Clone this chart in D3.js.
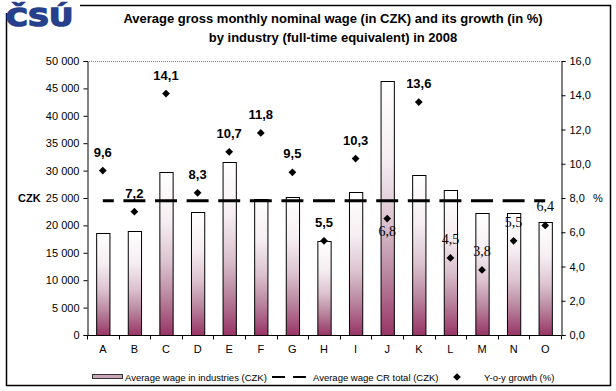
<!DOCTYPE html>
<meta charset="utf-8">
<script src="https://d3js.org/d3.v7.min.js"></script>
<style>
  body { margin: 0; background: #fff; }
  text { font-family: "Liberation Sans", Arial, sans-serif; }
</style>
<div id="chart"></div>
<script>

// data
var categories = ["A","B","C","D","E","F","G","H","I","J","K","L","M","N","O"];
var wages = [18550, 18900, 29700, 22400, 31500, 24750, 25100, 17200, 26050, 46350, 29150, 26400, 22200, 22200, 20550];
var growth = [9.6, 7.2, 14.1, 8.3, 10.7, 11.8, 9.5, 5.5, 10.3, 6.8, 13.6, 4.5, 3.8, 5.5, 6.4];
var avgWage = 24500;
var wageTicks = [0, 5000, 10000, 15000, 20000, 25000, 30000, 35000, 40000, 45000, 50000];
var growthTicks = [0, 2, 4, 6, 8, 10, 12, 14, 16];
var titleLines = ["Average gross monthly nominal wage (in CZK) and its growth (in %)",
                  "by industry  (full-time equivalent) in 2008"];
var legendLabels = ["Average wage in industries (CZK)", "Average wage CR total (CZK)", "Y-o-y growth (%)"];

// labels that excel drew below the point / in the plain serif face
var labelBelow = ["J"];
var serifLabels = ["J", "L", "M", "N", "O"];

var W = 616, H = 391;
var plot = {left: 87, right: 561, top: 61, bottom: 335};

var svg = d3.select("#chart").append("svg")
    .attr("width", W)
    .attr("height", H);

// gradient for the bars
var defs = svg.append("defs");
var grad = defs.append("linearGradient")
    .attr("id", "barFill")
    .attr("x1", 0).attr("y1", 0).attr("x2", 0).attr("y2", 1);
[[0, "#ffffff"], [0.3, "#f6eef2"], [0.55, "#dcc3cf"], [0.75, "#bb8aa2"], [1, "#983466"]].forEach(function (s) {
  grad.append("stop").attr("offset", s[0]).attr("stop-color", s[1]);
});

// outer frame
svg.append("rect")
    .attr("x", 6.5).attr("y", 5.5)
    .attr("width", 604).attr("height", 380)
    .attr("fill", "none")
    .attr("stroke", "#000")
    .attr("stroke-width", 1.5);

// logo
svg.append("rect")
    .attr("x", 0).attr("y", 0)
    .attr("width", 80).attr("height", 13)
    .attr("fill", "#fff");
svg.append("text")
    .attr("x", 6).attr("y", 26)
    .attr("font-weight", "bold")
    .attr("font-size", 24)
    .attr("textLength", 67)
    .attr("lengthAdjust", "spacingAndGlyphs")
    .attr("fill", "#27408c")
    .attr("stroke", "#27408c")
    .attr("stroke-width", 1.6)
    .style("font-family", "'DejaVu Sans'")
    .text("ČSÚ");

// title
svg.append("g").selectAll("text")
  .data(titleLines)
  .enter()
  .append("text")
    .attr("x", 333)
    .attr("y", function (d, i) { return 23 + i * 19; })
    .attr("text-anchor", "middle")
    .attr("font-size", 13)
    .attr("font-weight", "bold")
    .text(function (d) { return d; });

// scales
var x = d3.scaleBand()
    .domain(categories)
    .range([plot.left, plot.right])
    .paddingInner(0.58)
    .paddingOuter(0.29);

var y = d3.scaleLinear()
    .domain([0, 50000])
    .range([plot.bottom, plot.top]);

var y2 = d3.scaleLinear()
    .domain([0, 16])
    .range([plot.bottom, plot.top]);

var cx = function (c) { return x(c) + x.bandwidth() / 2; };

// dotted top edge of the plot area
svg.append("line")
    .attr("x1", plot.left).attr("x2", plot.right)
    .attr("y1", plot.top + 0.5).attr("y2", plot.top + 0.5)
    .attr("stroke", "#888")
    .attr("stroke-dasharray", "1,1");

// bars
svg.append("g")
  .selectAll("rect")
  .data(categories)
  .enter()
  .append("rect")
    .attr("x", function (d) { return x(d) + 0.5; })
    .attr("y", function (d, i) { return Math.round(y(wages[i])) + 0.5; })
    .attr("width", x.bandwidth())
    .attr("height", function (d, i) { return plot.bottom - Math.round(y(wages[i])); })
    .attr("fill", "url(#barFill)")
    .attr("stroke", "#000")
    .attr("stroke-width", 1);

// average wage line
var avgLine = d3.line()
    .x(function (d) { return cx(d); })
    .y(function () { return y(avgWage); });
svg.append("path")
    .datum(categories)
    .attr("d", avgLine)
    .attr("fill", "none")
    .attr("stroke", "#000")
    .attr("stroke-width", 3)
    .attr("stroke-dasharray", "22,9.6")
    .attr("stroke-dashoffset", 11);

// left axis
var fmtThousands = function (d) { return d3.format(",")(d).replace(/,/g, " "); };
var axL = svg.append("g")
    .attr("transform", "translate(" + (plot.left + 0.5) + ",0)")
    .call(d3.axisLeft(y).tickValues(wageTicks).tickSize(4).tickPadding(4).tickFormat(fmtThousands));
axL.selectAll("text").attr("font-size", 11).attr("font-family", "Liberation Sans").attr("fill", "#000");

svg.append("text")
    .attr("x", 18)
    .attr("y", y(25000) + 4)
    .attr("font-size", 11)
    .attr("font-weight", "bold")
    .text("CZK");

// right axis
var axR = svg.append("g")
    .attr("transform", "translate(" + (plot.right + 0.5) + ",0)")
    .call(d3.axisRight(y2).tickValues(growthTicks).tickSize(4).tickPadding(4).tickFormat(function (d) { return d3.format(".1f")(d).replace(".", ","); }));
axR.selectAll("text").attr("font-size", 11).attr("font-family", "Liberation Sans").attr("fill", "#000");

svg.append("text")
    .attr("x", 593)
    .attr("y", y2(8) + 4)
    .attr("font-size", 11)
    .text("%");

// bottom axis: labels at centres, ticks at band edges
var axB = svg.append("g")
    .attr("transform", "translate(0," + (plot.bottom + 0.5) + ")")
    .call(d3.axisBottom(x).tickSize(0).tickPadding(10));
axB.select(".domain").attr("d", "M" + plot.left + ",0H" + plot.right);
axB.selectAll("text").attr("font-size", 11).attr("font-family", "Liberation Sans").attr("fill", "#000");
axB.selectAll(".edge")
  .data(d3.range(categories.length + 1))
  .enter()
  .append("line")
    .attr("class", "edge")
    .attr("x1", function (i) { return Math.round(plot.left + i * x.step()) + 0.5; })
    .attr("x2", function (i) { return Math.round(plot.left + i * x.step()) + 0.5; })
    .attr("y1", 0).attr("y2", 4)
    .attr("stroke", "#000");

// growth points
var diamond = d3.symbol().type(d3.symbolSquare).size(30);
svg.append("g")
  .selectAll("path")
  .data(categories)
  .enter()
  .append("path")
    .attr("d", diamond)
    .attr("transform", function (d, i) { return "translate(" + cx(d) + "," + y2(growth[i]) + ") rotate(45)"; })
    .attr("fill", "#000");

// growth labels
svg.append("g")
  .selectAll("text")
  .data(categories)
  .enter()
  .append("text")
    .attr("x", function (d) { return cx(d); })
    .attr("y", function (d, i) { return y2(growth[i]) + (labelBelow.indexOf(d) >= 0 ? 17 : -14); })
    .attr("text-anchor", "middle")
    .attr("font-size", function (d) { return serifLabels.indexOf(d) >= 0 ? 14 : 13; })
    .attr("font-weight", function (d) { return serifLabels.indexOf(d) >= 0 ? "normal" : "bold"; })
    .style("font-family", function (d) { return serifLabels.indexOf(d) >= 0 ? "'Liberation Serif', serif" : "'Liberation Sans', Arial, sans-serif"; })
    .text(function (d, i) { return d3.format(".1f")(growth[i]).replace(".", ","); });

// legend
var lg = svg.append("g").attr("transform", "translate(0,377)");
lg.append("rect")
    .attr("x", 92.5).attr("y", -2.5)
    .attr("width", 30).attr("height", 4)
    .attr("fill", "#c9a5b7")
    .attr("stroke", "#333");
lg.append("text").attr("x", 125).attr("y", 4).attr("font-size", 9.5).text(legendLabels[0]);
lg.append("line")
    .attr("x1", 272).attr("x2", 306)
    .attr("y1", 0).attr("y2", 0)
    .attr("stroke", "#000")
    .attr("stroke-width", 2)
    .attr("stroke-dasharray", "13,8");
lg.append("text").attr("x", 313).attr("y", 4).attr("font-size", 9.5).text(legendLabels[1]);
lg.append("path")
    .attr("d", diamond)
    .attr("transform", "translate(457,0) rotate(45)")
    .attr("fill", "#000");
lg.append("text").attr("x", 484).attr("y", 4).attr("font-size", 9.5).text(legendLabels[2]);

</script>
